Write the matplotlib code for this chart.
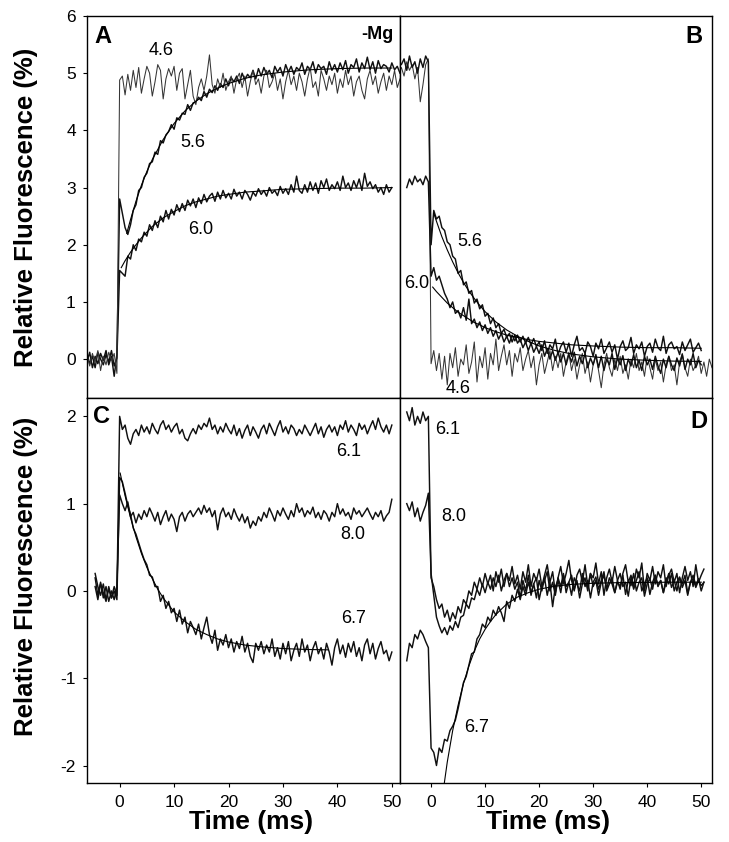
import numpy as np
import matplotlib
matplotlib.use("Agg")
import matplotlib.pyplot as plt

plt.rcParams['font.family'] = ['Liberation Sans', 'DejaVu Sans']
plt.rcParams['axes.unicode_minus'] = False

STEP = 0.5

# ---------------- Panel A (-Mg, light on) ----------------
A_T0 = -6.0
a46 = [0.08, -0.12, 0.1, -0.05, 0.15, -0.2, 0.05, -0.1, 0.12, -0.02, 0.1, -0.25,
       4.88, 4.95, 4.62, 4.98, 4.7, 5.05, 4.75, 5.1, 4.65, 4.9, 5.12, 5.0, 4.6, 4.85, 5.15, 5.05,
       4.55, 4.9, 5.08, 4.95, 5.12, 4.7, 5.0, 5.08, 4.55, 4.8, 5.05, 4.6, 4.45, 4.75, 4.9, 4.7,
       4.95, 5.32, 4.8, 4.65, 4.9, 4.75, 5.0, 4.7, 4.85, 4.95, 4.65, 4.9, 5.0, 4.75, 4.95, 4.6,
       4.85, 5.05, 4.8, 4.9, 4.65, 4.95, 5.05, 4.75, 4.85, 5.0, 4.7, 4.9, 4.55, 4.85, 5.05, 4.8,
       4.95, 4.7, 5.0, 4.85, 4.6, 4.9, 5.1, 4.75, 4.85, 4.6, 5.05, 4.9, 4.7, 4.95, 4.8, 5.0,
       4.65, 4.9, 4.75, 5.05, 4.8, 4.95, 4.6, 4.85, 4.95, 4.7, 4.55, 4.9, 5.05, 4.8, 4.95, 4.65,
       4.85, 5.0, 4.7, 4.95, 4.8, 5.05, 4.75, 4.9]
a56 = [-0.05, 0.12, -0.15, 0.05, -0.08, 0.1, -0.02, 0.15, -0.1, 0.05, -0.3, 0.08,
       2.8, 2.55, 2.3, 2.18, 2.35, 2.6, 2.7, 2.95, 3.0, 3.18, 3.25, 3.42, 3.45, 3.62, 3.58, 3.82,
       3.78, 3.92, 3.98, 4.1, 4.02, 4.22, 4.18, 4.3, 4.28, 4.45, 4.35, 4.48, 4.5, 4.58, 4.52, 4.68,
       4.58, 4.72, 4.66, 4.78, 4.7, 4.82, 4.75, 4.9, 4.78, 4.92, 4.85, 4.95, 4.82, 5.0, 4.88, 4.98,
       4.92, 5.05, 4.9, 5.08, 4.95, 5.1, 4.98, 5.05, 4.92, 5.12, 5.02, 5.1, 4.95, 5.15, 5.02, 5.12,
       4.98, 5.1, 5.05, 5.18, 4.98, 5.12, 5.06, 5.2, 5.0, 5.15, 5.08, 5.12, 4.98, 5.2, 5.05, 5.15,
       5.02, 5.18, 5.06, 5.22, 5.0, 5.15, 5.1, 5.25, 5.02, 5.18, 5.08, 5.28, 5.06, 5.2, 5.0, 5.22,
       5.08, 5.15, 5.12, 5.02, 5.18, 5.06, 5.12, 5.0]
a60 = [0.1, -0.08, 0.05, -0.15, 0.12, 0.0, -0.1, 0.08, -0.05, 0.15, -0.12, 0.02,
       1.55, 1.5, 1.45, 1.8, 1.75, 2.0, 1.9, 2.1, 2.05, 2.22, 2.15, 2.35, 2.25, 2.42, 2.3, 2.5,
       2.4, 2.6, 2.45, 2.62, 2.52, 2.7, 2.58, 2.72, 2.6, 2.78, 2.68, 2.8, 2.65, 2.82, 2.72, 2.88,
       2.75, 2.85, 2.9, 2.76, 2.92, 2.8, 2.95, 2.82, 2.9, 2.8, 2.97, 2.85, 2.92, 2.8, 2.95, 2.88,
       2.78, 2.92, 2.85, 2.98, 2.88, 2.95, 2.85, 3.0, 2.9, 2.95, 2.86, 3.02, 2.9, 2.98, 2.88, 3.05,
       2.92, 3.2, 2.95, 2.9, 3.05, 2.92, 3.1, 2.95, 3.08, 2.9, 3.12, 3.0, 3.15, 2.95, 3.05, 2.98,
       3.1, 2.95, 3.2, 3.0, 3.08, 2.95, 3.12, 3.0, 3.15, 2.95, 3.25, 3.02, 3.1, 2.98, 3.05, 2.92,
       3.0, 2.88, 3.05, 2.92, 3.0]
fitA56_t = [1.3, 2, 3, 4, 5, 6, 8, 10, 12, 14, 16, 18, 20, 23, 26, 30, 35, 40, 45, 50]
fitA56_v = [2.20, 2.44, 2.76, 3.04, 3.28, 3.49, 3.84, 4.12, 4.34, 4.51, 4.64, 4.74, 4.82, 4.91,
            4.97, 5.02, 5.06, 5.08, 5.09, 5.09]
fitA60_t = [0.3, 1, 2, 3, 4, 5, 6, 8, 10, 12, 14, 16, 18, 20, 23, 26, 30, 35, 40, 45, 50]
fitA60_v = [1.60, 1.72, 1.87, 2.00, 2.12, 2.22, 2.32, 2.47, 2.58, 2.68, 2.75, 2.80, 2.85, 2.88,
            2.92, 2.94, 2.97, 2.98, 2.99, 2.99, 3.00]

# ---------------- Panel B (-Mg, light off) ----------------
B_T0 = -6.0
b46 = [5.0, 5.1, 4.95, 5.2, 5.05, 5.15, 4.9, 5.1, 4.5, 4.8, 5.15, 5.25,
       -0.08, 0.15, -0.2, 0.1, -0.35, 0.05, -0.45, 0.1, -0.15, 0.2, -0.3, 0.0, -0.1, 0.25, -0.25,
       -0.05, 0.3, -0.4, 0.05, -0.15, 0.2, -0.35, 0.1, -0.1, 0.35, -0.2, 0.05, 0.25, -0.1, 0.15,
       -0.3, 0.1, -0.05, 0.2, -0.2, 0.0, 0.15, -0.15, 0.05, -0.45, -0.1, 0.1, -0.25, -0.05, 0.15,
       -0.2, 0.05, -0.15, 0.1, -0.3, -0.05, 0.12, -0.2, 0.0, -0.35, -0.1, 0.1, -0.25, -0.05, -0.4,
       -0.1, 0.05, -0.2, -0.5, -0.1, 0.1, -0.15, -0.3, 0.0, -0.2, 0.05, -0.25, -0.1, -0.35, 0.0,
       -0.15, 0.1, -0.2, -0.05, -0.3, 0.05, -0.15, -0.35, 0.0, -0.2, -0.05, -0.4, -0.1, 0.05, -0.2,
       -0.1, -0.45, -0.05, 0.1, -0.15, -0.3, 0.0, -0.2, -0.1, 0.05, -0.25, -0.05, -0.3, 0.0, -0.15]
b56 = [5.2, 5.15, 5.25, 5.05, 5.3, 5.1, 5.2, 5.0, 5.25, 5.1, 5.3, 5.2,
       2.0, 2.6, 2.45, 2.5, 2.3, 2.25, 2.05, 2.0, 1.8, 1.75, 1.5, 1.55, 1.3, 1.35, 1.15, 1.2,
       0.98, 1.05, 0.88, 0.95, 0.75, 0.8, 0.62, 0.72, 0.55, 0.62, 0.45, 0.52, 0.38, 0.45, 0.3, 0.42,
       0.28, 0.35, 0.2, 0.3, 0.15, 0.28, 0.12, 0.22, 0.1, 0.25, 0.05, 0.18, 0.0, 0.15, -0.02, 0.12,
       -0.05, 0.1, -0.1, 0.08, -0.05, 0.12, -0.12, 0.05, -0.08, 0.1, -0.15, 0.02, -0.1, 0.08, -0.15,
       0.05, -0.2, 0.0, -0.1, 0.1, -0.18, 0.02, -0.1, 0.06, -0.2, 0.0, -0.12, 0.08, -0.15, -0.02,
       -0.2, 0.05, -0.1, 0.0, -0.18, 0.05, -0.12, -0.25, 0.0, -0.15, 0.05, -0.1, -0.2, 0.02, -0.12,
       0.08, -0.18, 0.0, -0.1, 0.1, -0.15, -0.02, -0.1]
B60_T0 = -4.5
b60 = [3.0, 3.15, 3.05, 3.2, 3.1, 3.15, 3.05, 3.2, 3.1,
       1.45, 1.6, 1.38, 1.45, 1.3, 1.15, 1.05, 0.9, 1.0, 0.8, 0.85, 0.72, 0.9, 0.68, 1.05, 0.62,
       0.7, 0.55, 0.65, 0.5, 0.6, 0.45, 0.55, 0.4, 0.5, 0.35, 0.45, 0.3, 0.4, 0.28, 0.42, 0.32,
       0.42, 0.3, 0.4, 0.28, 0.38, 0.25, 0.36, 0.22,
       0.3, 0.15, 0.32, 0.1, 0.25, 0.18, 0.35, 0.08, 0.22, 0.3, 0.12, 0.28, 0.05, 0.25, 0.4, 0.15,
       0.2, 0.1, 0.3, 0.22, 0.05, 0.28, 0.18, 0.35, 0.1, 0.2, 0.3, 0.12, 0.25, 0.0, 0.22, 0.32,
       0.15, 0.2, 0.38, 0.1, 0.25, 0.18, 0.3, 0.05, 0.22, 0.28, 0.12, 0.35, 0.2, 0.15, 0.4, 0.1,
       0.25, 0.3, 0.18, 0.22, 0.08, 0.3, 0.15, 0.25, 0.35, 0.12, 0.2, 0.28, 0.15]
fitB56_t = [0.5, 1, 2, 3, 4, 5, 6, 7, 8, 9, 10, 12, 14, 16, 18, 20, 23, 26, 30, 35, 40, 45, 50]
fitB56_v = [2.55, 2.41, 2.14, 1.91, 1.70, 1.51, 1.34, 1.19, 1.06, 0.94, 0.83, 0.65, 0.51, 0.40,
            0.31, 0.23, 0.15, 0.09, 0.04, 0.00, -0.02, -0.035, -0.04]
fitB60_t = [0.3, 1, 2, 3, 4, 5, 6, 7, 8, 9, 10, 12, 14, 16, 18, 20, 23, 26, 30, 35, 40, 45, 50]
fitB60_v = [1.26, 1.18, 1.08, 0.98, 0.90, 0.82, 0.76, 0.70, 0.64, 0.60, 0.55, 0.48, 0.42, 0.38,
            0.34, 0.31, 0.28, 0.25, 0.23, 0.21, 0.20, 0.20, 0.19]

# ---------------- Panel C (+Mg, light on) ----------------
C_T0 = -4.5
c61 = [0.2, 0.05, -0.05, 0.08, -0.1, 0.02, -0.08, 0.05, -0.05,
       2.0, 1.85, 1.9, 1.75, 1.68, 1.8, 1.85, 1.78, 1.9, 1.82, 1.88, 1.8, 1.92, 1.85, 1.8, 1.9,
       1.95, 1.85, 1.9, 1.82, 1.88, 1.92, 1.8, 1.85, 1.75, 1.72, 1.8, 1.86, 1.8, 1.9, 1.85, 1.92,
       1.88, 1.98, 1.85, 1.9, 1.8, 1.88, 1.82, 1.92, 1.85, 1.8, 1.9, 1.78, 1.86, 1.75, 1.84, 1.9,
       1.78, 1.88, 1.82, 1.75, 1.85, 1.9, 1.8, 1.92, 1.85, 1.78, 1.88, 1.95, 1.82, 1.88, 1.8, 1.9,
       1.86, 1.78, 1.85, 1.8, 1.9, 1.84, 1.78, 1.85, 1.92, 1.8, 1.88, 1.76, 1.85, 1.9, 1.82, 1.88,
       1.78, 1.9, 1.85, 1.95, 1.82, 1.9, 1.85, 1.78, 1.92, 1.85, 1.9, 1.8, 1.88, 1.95, 1.85, 1.98,
       1.88, 1.82, 1.9, 1.8, 1.9]
c80 = [0.15, -0.05, 0.1, -0.08, 0.05, -0.12, 0.0, -0.1, 0.05,
       1.1, 1.0, 0.92, 1.02, 0.85, 0.9, 0.78, 0.88, 0.82, 0.92, 0.85, 0.95, 0.88, 0.8, 0.9, 0.76,
       0.85, 0.92, 0.8, 0.88, 0.82, 0.68, 0.85, 0.9, 0.8, 0.88, 0.92, 0.85, 0.9, 0.95, 0.88, 0.98,
       0.9, 0.95, 0.85, 0.92, 0.7, 0.88, 0.95, 0.85, 0.9, 0.82, 0.94, 0.86, 0.8, 0.88, 0.78, 0.85,
       0.72, 0.8, 0.75, 0.85, 0.8, 0.9, 0.84, 0.95, 0.88, 0.8, 0.92, 0.86, 0.95, 0.88, 0.82, 0.92,
       0.85, 1.0, 0.9, 0.95, 0.85, 0.92, 0.88, 0.96, 0.84, 0.9, 0.82, 0.92, 0.88, 0.8, 0.9, 0.85,
       1.0, 0.88, 0.94, 0.86, 0.9, 0.82, 0.95, 0.88, 0.92, 0.85, 0.9, 0.95, 0.88, 0.82, 0.9, 0.85,
       0.92, 0.8, 0.86, 0.9, 1.05]
c67 = [0.05, -0.1, 0.08, -0.02, -0.12, 0.05, -0.08, 0.0, -0.1,
       1.3, 1.25, 1.12, 0.98, 0.88, 0.72, 0.65, 0.55, 0.45, 0.36, 0.3, 0.18, 0.16, 0.05, 0.05,
       -0.12, -0.05, -0.2, -0.12, -0.25, -0.2, -0.35, -0.22, -0.38, -0.3, -0.48, -0.35, -0.42, -0.5,
       -0.38, -0.55, -0.42, -0.3, -0.5, -0.6, -0.45, -0.68, -0.55, -0.62, -0.5, -0.65, -0.55, -0.7,
       -0.58, -0.66, -0.52, -0.7, -0.6, -0.75, -0.82, -0.6, -0.68, -0.58, -0.72, -0.62, -0.7, -0.55,
       -0.75, -0.65, -0.78, -0.6, -0.72, -0.58, -0.8, -0.68, -0.6, -0.75, -0.55, -0.7, -0.62, -0.8,
       -0.66, -0.58, -0.72, -0.65, -0.78, -0.6, -0.7, -0.85, -0.65, -0.55, -0.72, -0.62, -0.76,
       -0.6, -0.7, -0.58, -0.75, -0.65, -0.8, -0.62, -0.55, -0.72, -0.6, -0.78, -0.66, -0.58,
       -0.72, -0.68, -0.8, -0.7]
fitC67_t = [0.1, 1, 2, 3, 4, 5, 6, 7, 8, 9, 10, 12, 14, 16, 18, 20, 23, 26, 30, 34, 38.3]
fitC67_v = [1.35, 1.09, 0.84, 0.62, 0.43, 0.27, 0.14, 0.02, -0.08, -0.16, -0.24, -0.35, -0.44,
            -0.50, -0.55, -0.585, -0.62, -0.64, -0.66, -0.67, -0.675]

# ---------------- Panel D (+Mg, light off) ----------------
D_T0 = -4.5
d61 = [2.05, 1.95, 2.1, 1.9, 2.0, 1.92, 2.05, 1.95, 2.0,
       0.15, 0.05, -0.1, -0.2, -0.15, -0.3, -0.22, -0.35, -0.25, -0.32, -0.18, -0.25, -0.1, -0.15,
       0.0, -0.05, 0.1, 0.02, 0.15, 0.05, 0.2, 0.08, 0.18, 0.0, 0.22, 0.1, 0.25, 0.05, 0.2, 0.12,
       0.28, 0.08, 0.18, 0.02, 0.22, 0.1, 0.3, 0.05, 0.2, 0.12, 0.25,
       0.05, 0.18, 0.3, 0.1, 0.22, -0.02, 0.15, 0.28, 0.08, 0.2, 0.35, 0.12, 0.0, 0.18, 0.25, 0.1,
       0.3, 0.05, 0.2, 0.15, 0.32, 0.08, 0.22, -0.05, 0.15, 0.25, 0.1, 0.28, 0.12, 0.02, 0.2, 0.3,
       0.1, 0.18, 0.05, 0.25, 0.15, 0.32, 0.0, 0.2, 0.12, 0.28, 0.08, 0.22, 0.15, 0.3, 0.05, 0.18,
       0.25, 0.1, 0.2, -0.02, 0.15, 0.28, 0.12, 0.22, 0.05, 0.3, 0.1, 0.18, 0.25]
d80 = [1.0, 0.92, 1.02, 0.85, 0.95, 0.8, 0.9, 0.98, 1.12,
       0.2, -0.05, -0.3, -0.4, -0.48, -0.42, -0.5, -0.4, -0.45, -0.35, -0.42, -0.3, -0.28, -0.15,
       -0.2, -0.08, -0.1, 0.02, -0.05, 0.08, -0.02, 0.1, 0.02, 0.15, 0.05, 0.18, 0.0, 0.12, 0.2,
       0.05, 0.15,
       0.02, 0.1, -0.08, 0.12, 0.0, 0.18, -0.05, 0.08, 0.15, -0.1, 0.05, 0.12, 0.22, 0.0, 0.1,
       -0.05, 0.15, 0.05, 0.2, -0.02, 0.1, 0.18, 0.02, 0.12, -0.08, 0.08, 0.15, 0.0, 0.2, 0.05,
       0.12, -0.05, 0.1, 0.18, 0.02, 0.15, 0.08, -0.02, 0.12, 0.2, 0.05, 0.1, -0.06, 0.15, 0.02,
       0.12, 0.22, 0.0, 0.08, 0.15, -0.04, 0.1, 0.18, 0.05, 0.12, -0.02, 0.15, 0.08, 0.2, 0.0, 0.1,
       0.16, 0.04, 0.12, -0.05, 0.1, 0.18, 0.06, 0.14, 0.0, 0.1]
d67 = [-0.8, -0.6, -0.65, -0.5, -0.55, -0.45, -0.5, -0.58, -0.65,
       -1.8, -1.85, -2.0, -1.8, -1.85, -1.7, -1.72, -1.6, -1.55, -1.48, -1.35, -1.2, -1.05, -0.98,
       -0.85, -0.72, -0.7, -0.55, -0.5, -0.38, -0.42, -0.3, -0.35, -0.22, -0.28, -0.18, -0.25,
       -0.35, -0.12, -0.2, -0.05, -0.12, 0.02, -0.1, 0.05, -0.05, 0.1, -0.02, 0.08, -0.08, 0.12,
       0.0, 0.15, -0.05, 0.1, -0.18, 0.05,
       0.12, -0.02, 0.18, 0.05, 0.1, -0.05, 0.15, 0.08, 0.0, 0.2, 0.05, 0.12, -0.08, 0.1, 0.16,
       0.02, 0.12, 0.22, 0.0, 0.08, 0.15, -0.02, 0.1, 0.05, 0.18, -0.04, 0.12, 0.06, 0.2, 0.0, 0.1,
       0.15, -0.06, 0.08, 0.14, 0.02, 0.18, 0.06, 0.12, -0.02, 0.1, 0.2, 0.04, 0.12, 0.0, 0.15,
       0.08, 0.18, -0.03, 0.1, 0.14, 0.04, 0.12, 0.06, 0.1]
fitD67_t = [2.0, 3, 4, 5, 6, 7, 8, 9, 10, 11, 12, 14, 16, 18, 20, 23, 26, 30, 35, 40, 45, 50]
fitD67_v = [-2.40, -1.96, -1.60, -1.31, -1.06, -0.86, -0.69, -0.55, -0.44, -0.35, -0.27, -0.15,
            -0.07, -0.02, 0.02, 0.055, 0.075, 0.088, 0.095, 0.098, 0.10, 0.10]

# ---------------- labels ----------------
x_ticks = [0, 10, 20, 30, 40, 50]
y_ticks_top = [0, 1, 2, 3, 4, 5, 6]
y_ticks_bottom = [-2, -1, 0, 1, 2]


def times(t0, vals):
    return t0 + STEP * np.arange(len(vals))


fig = plt.figure(figsize=(7.29, 8.42), dpi=100)
axA = fig.add_axes([0.1193, 0.5273, 0.4294, 0.4537])
axB = fig.add_axes([0.5487, 0.5273, 0.4280, 0.4537])
axC = fig.add_axes([0.1193, 0.0701, 0.4294, 0.4572])
axD = fig.add_axes([0.5487, 0.0701, 0.4280, 0.4572])

TR = dict(color='#101010', lw=1.05)
TR46 = dict(color='#353535', lw=0.75)
FIT = dict(color='black', lw=0.8)

# A
axA.plot(times(A_T0, a60), a60, **TR)
axA.plot(times(A_T0, a56), a56, **TR)
axA.plot(times(A_T0, a46), a46, **TR46)
axA.plot(fitA56_t, fitA56_v, **FIT)
axA.plot(fitA60_t, fitA60_v, **FIT)
# B
axB.plot(times(B_T0, b46), b46, **TR46)
axB.plot(times(B_T0, b56), b56, **TR)
axB.plot(times(B60_T0, b60), b60, **TR)
axB.plot(fitB56_t, fitB56_v, **FIT)
axB.plot(fitB60_t, fitB60_v, **FIT)
# C
axC.plot(times(C_T0, c61), c61, **TR)
axC.plot(times(C_T0, c80), c80, **TR)
axC.plot(times(C_T0, c67), c67, **TR)
axC.plot(fitC67_t, fitC67_v, **FIT)
# D
axD.plot(times(D_T0, d61), d61, **TR)
axD.plot(times(D_T0, d80), d80, **TR)
axD.plot(times(D_T0, d67), d67, **TR)
axD.plot(fitD67_t, fitD67_v, **FIT)

for ax in (axA, axC):
    ax.set_xlim(-6.0, 51.5)
for ax in (axB, axD):
    ax.set_xlim(-5.75, 52.0)
for ax in (axA, axB):
    ax.set_ylim(-0.68, 6.0)
for ax in (axC, axD):
    ax.set_ylim(-2.2, 2.21)

for ax in (axA, axB, axC, axD):
    for s in ax.spines.values():
        s.set_linewidth(1.0)
        s.set_color('black')
    ax.tick_params(direction='out', length=3, width=0.8, labelsize=12.5, colors='black')
    ax.set_xticks(x_ticks)

axA.set_yticks(y_ticks_top)
axC.set_yticks(y_ticks_bottom)
axA.tick_params(axis='y', pad=5)
axC.tick_params(axis='y', pad=5)
for ax in (axB, axD):
    ax.set_yticks([])
for ax in (axA, axB):
    ax.tick_params(axis='x', bottom=False, labelbottom=False)
for ax in (axC, axD):
    ax.tick_params(axis='x', pad=6)

lab = dict(fontsize=13, ha='center', va='center')
let = dict(fontsize=17, fontweight='bold', ha='center', va='center')
axA.text(-3.0, 5.65, 'A', **let)
axA.text(50.3, 5.67, '-Mg', fontsize=13, fontweight='bold', ha='right', va='center')
axA.text(7.6, 5.4, '4.6', **lab)
axA.text(13.5, 3.79, '5.6', **lab)
axA.text(14.9, 2.26, '6.0', **lab)

axB.text(48.7, 5.64, 'B', **let)
axB.text(7.1, 2.05, '5.6', **lab)
axB.text(-2.6, 1.32, '6.0', **lab)
axB.text(5.1, -0.51, '4.6', **lab)

axC.text(-3.3, 2.0, 'C', **let)
axC.text(42.0, 1.6, '6.1', **lab)
axC.text(42.8, 0.645, '8.0', **lab)
axC.text(42.9, -0.32, '6.7', **lab)

axD.text(49.6, 1.94, 'D', **let)
axD.text(3.1, 1.85, '6.1', **lab)
axD.text(4.2, 0.85, '8.0', **lab)
axD.text(8.5, -1.57, '6.7', **lab)

fig.text(0.0357, 0.754, 'Relative Fluorescence (%)', rotation=90, fontsize=18.5,
         fontweight='bold', ha='center', va='center')
fig.text(0.0357, 0.316, 'Relative Fluorescence (%)', rotation=90, fontsize=18.5,
         fontweight='bold', ha='center', va='center')
fig.text(0.344, 0.0241, 'Time (ms)', fontsize=19, fontweight='bold', ha='center', va='center')
fig.text(0.752, 0.0241, 'Time (ms)', fontsize=19, fontweight='bold', ha='center', va='center')

fig.savefig('out.png', dpi=100)
